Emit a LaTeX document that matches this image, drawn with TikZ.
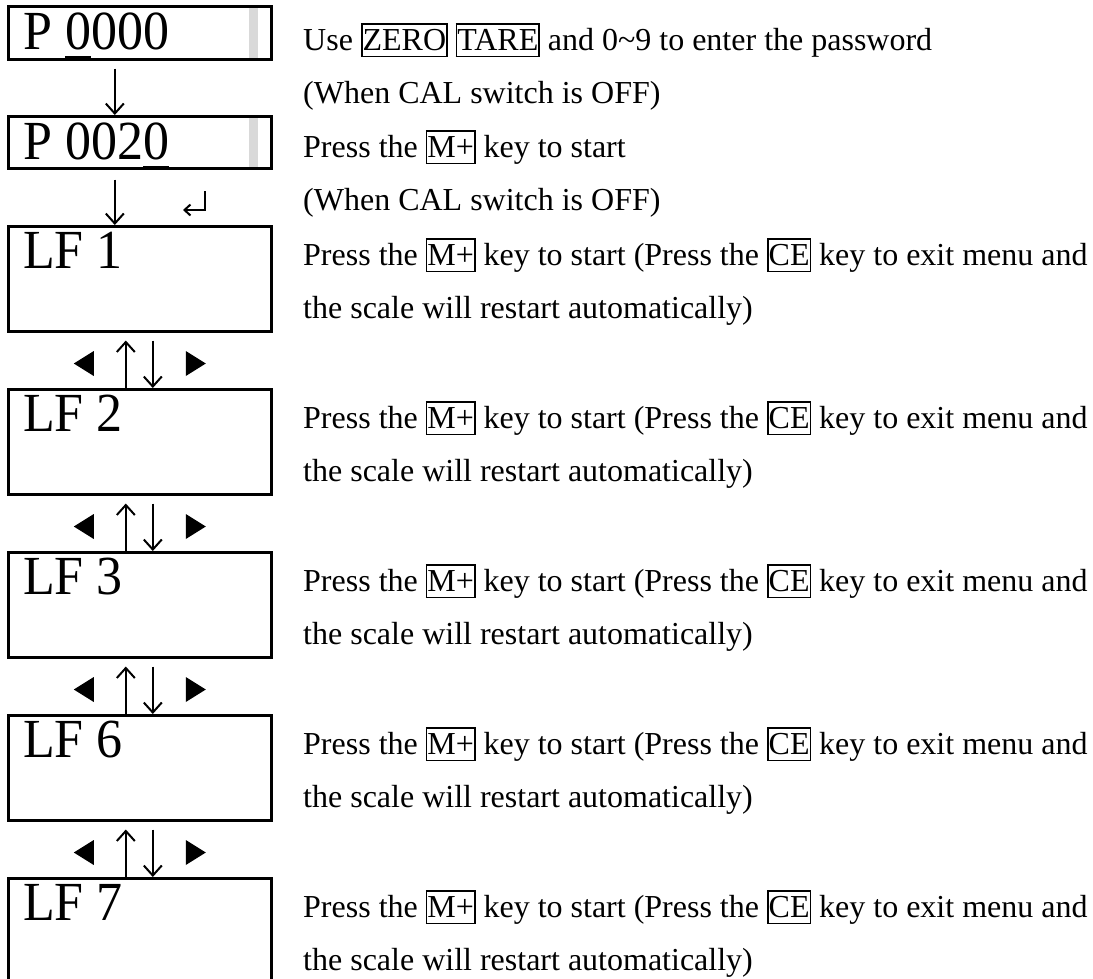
\documentclass[tikz,border=0pt]{standalone}
\usepackage{fontspec}
\setmainfont{Liberation Serif}
\usetikzlibrary{arrows.meta,calc}
\newcommand\kbox[1]{{\setlength\fboxsep{0pt}\setlength\fboxrule{1.6pt}\fbox{\rule[-5.5pt]{0pt}{30.5pt}#1}}}
\newcommand\uzero{\makebox[0pt][l]{\rule[-9.4pt]{0.5em}{2.5pt}}0}
\newcommand\tallish[1]{\scalebox{1}[1.06]{#1}}
\begin{document}
\begin{tikzpicture}[x=1pt,y=-1pt,
  lcd/.style={draw, line width=3pt, minimum width=262.5pt, anchor=north west, inner sep=0pt, outer sep=0pt},
  pbox/.style={lcd, minimum height=53pt},
  lfbox/.style={lcd, minimum height=105pt},
  lcdtxt/.style={anchor=base west, inner sep=0pt, font=\fontsize{52}{60}\selectfont},
  desc/.style={anchor=base west, inner sep=0pt, font=\fontsize{32}{38}\selectfont},
  arr/.style={line width=2pt, -{Straight Barb[length=10pt,width=18pt,line width=2pt]}},
  bar/.style={fill=black!15, draw=none},
  tri/.style={fill=black}
]
\useasboundingbox (0,0) rectangle (1093,978);

% P 0000
\node[pbox] (p1) at (8.8,6.5) {};
\fill[bar] ($(p1.north west)+(240.5,1.5)$) rectangle ($(p1.south west)+(249.5,-1.5)$);
\node[lcdtxt] (p1t) at (23,49) {\tallish{P \uzero000}};
\node[desc] (d1) at (303,50) {Use \kbox{ZERO} \kbox{TARE} and 0\textasciitilde9 to enter the password};
\node[desc] (d2) at (303,103.5) {(When CAL switch is OFF)};

% P 0020
\node[pbox, minimum height=52pt] (p2) at (8.8,116.5) {};
\fill[bar] ($(p2.north west)+(240.5,1.5)$) rectangle ($(p2.south west)+(249.5,-1.5)$);
\node[lcdtxt] (p2t) at (23,159) {\tallish{P 002\uzero}};
\node[desc] (d3) at (303,157) {Press the \kbox{M+} key to start};
\node[desc] (d4) at (303,210.5) {(When CAL switch is OFF)};

\draw[arr] ($(p1.south west)+(106,9)$) -- ($(p2.north west)+(106,-1.5)$);

% return symbol
\coordinate (ret) at (205,191);
\draw[line width=2pt, -{Straight Barb[length=6pt,width=11pt,line width=2pt]}] (ret) -- ++(0,19) -- ++(-22,0);

% LF boxes
\foreach \n/\lab [count=\i from 0] in {lf1/1,lf2/2,lf3/3,lf6/6,lf7/7}{
  \node[lfbox] (\n) at (8.8,226.5+163*\i) {};
  \node[lcdtxt] (\n t) at (23,225+163*\i+43.5) {\tallish{LF \lab}};
  \node[desc] (\n a) at (303,225+163*\i+40) {Press the \kbox{M+} key to start (Press the \kbox{CE} key to exit menu and};
  \node[desc] (\n b) at (303,225+163*\i+93) {the scale will restart automatically)};
}

\draw[arr] ($(p2.south west)+(106,11)$) -- ($(lf1.north west)+(106,-1.5)$);

\foreach \a/\b in {lf1/lf2,lf2/lf3,lf3/lf6,lf6/lf7}{
  \draw[arr] ($(\b.north west)+(117,-1.5)$) -- ($(\a.south west)+(117,9)$);
  \draw[arr] ($(\a.south west)+(144,9)$) -- ($(\b.north west)+(144,-1.5)$);
  \fill[tri] ($(\a.south west)+(65,32)$) -- ++(20,-12.5) -- ++(0,25) -- cycle;
  \fill[tri] ($(\a.south west)+(197,32)$) -- ++(-20,-12.5) -- ++(0,25) -- cycle;
}
\end{tikzpicture}
\end{document}
